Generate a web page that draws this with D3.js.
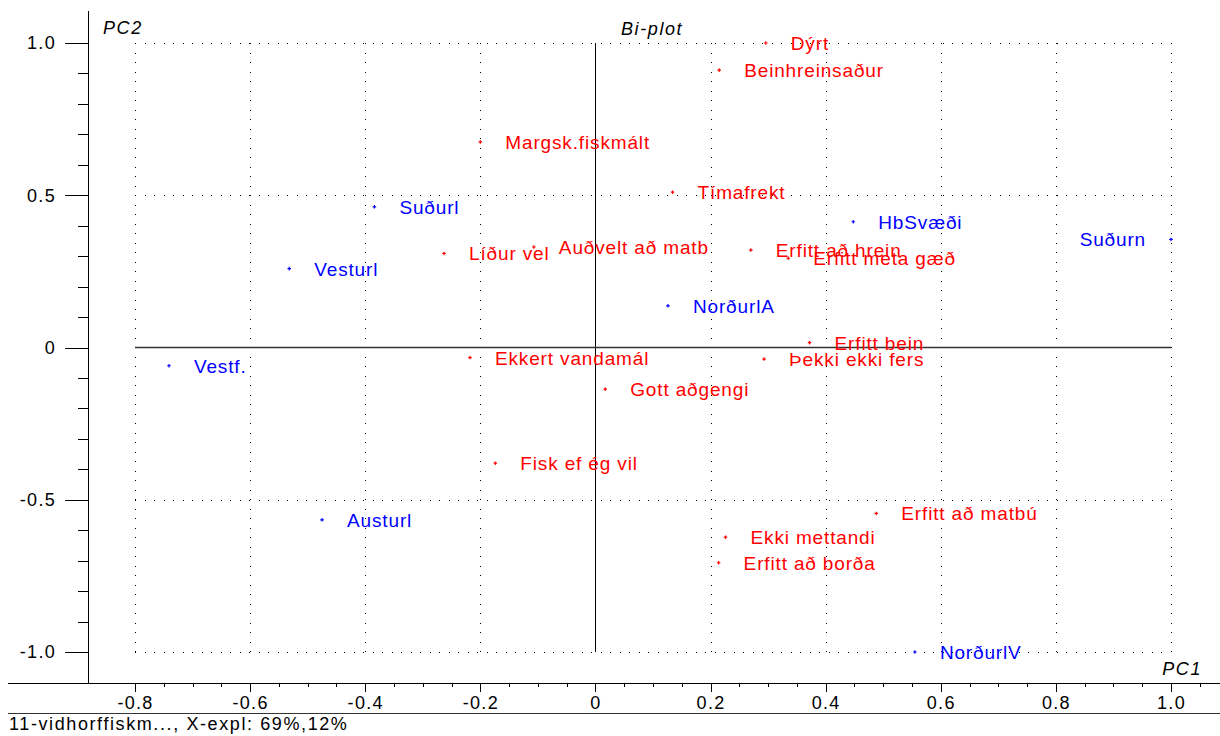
<!DOCTYPE html>
<html>
<head>
<meta charset="utf-8">
<script src="https://cdn.jsdelivr.net/npm/d3@7"></script>
<style>
  html, body { margin: 0; padding: 0; background: #fff; }
  svg { display: block; }
  text { font-family: "Liberation Sans", Arial, sans-serif; }
</style>
</head>
<body>
<svg id="chart" width="1220" height="736"></svg>
<script>
// Variable loadings (red) on PC1 / PC2
const varNames = ["Dýrt", "Beinhreinsaður", "Margsk.fiskmált", "Tímafrekt", "Líður vel",
  "Auðvelt að matb", "Erfitt að hrein", "Erfitt meta gæð", "Erfitt bein", "Þekki ekki fers",
  "Ekkert vandamál", "Gott aðgengi", "Fisk ef ég vil", "Erfitt að matbú", "Ekki mettandi",
  "Erfitt að borða"];
const varPC1 = [0.296, 0.215, -0.200, 0.134, -0.263, -0.107, 0.270, 0.335, 0.372, 0.293,
  -0.218, 0.017, -0.174, 0.488, 0.226, 0.214];
const varPC2 = [1.000, 0.911, 0.675, 0.510, 0.309, 0.330, 0.320, 0.293, 0.016, -0.038,
  -0.033, -0.137, -0.380, -0.545, -0.623, -0.707];

// Sample scores (blue) on PC1 / PC2
const sampleNames = ["Suðurl", "Vesturl", "Vestf.", "HbSvæði", "NorðurlA", "Suðurn", "Austurl", "NorðurlV"];
const samplePC1 = [-0.384, -0.532, -0.741, 0.448, 0.126, 1.000, -0.475, 0.555];
const samplePC2 = [0.462, 0.259, -0.060, 0.413, 0.137, 0.355, -0.566, -1.000];

// Axis ticks
const xMajor = [-0.8, -0.6, -0.4, -0.2, 0, 0.2, 0.4, 0.6, 0.8, 1.0];
const xTickLabels = ["-0.8", "-0.6", "-0.4", "-0.2", "0", "0.2", "0.4", "0.6", "0.8", "1.0"];
const yMajor = [-1.0, -0.5, 0, 0.5, 1.0];
const yTickLabels = ["-1.0", "-0.5", "0", "0.5", "1.0"];
const xGrid = [-0.8, -0.6, -0.4, -0.2, 0.2, 0.4, 0.6, 0.8, 1.0];
const yGrid = [-1.0, -0.5, 0.5, 1.0];

const footerText = "11-vidhorffiskm..., X-expl: 69%,12%";

const svg = d3.select("#chart");
const W = 1220;

const x = d3.scaleLinear().domain([-0.8, 1.0]).range([135, 1171]);
const y = d3.scaleLinear().domain([-1, 1]).range([652, 43]);

const axisY = 683;   // bottom axis line
const axisX = 88;    // left axis line

// minor tick values
const xMinor = d3.range(-16, 22).map(i => +(i * 0.05).toFixed(2))
  .filter(v => !xMajor.some(m => Math.abs(m - v) < 1e-6));
const yMinor = d3.range(-10, 11).map(i => +(i * 0.1).toFixed(2))
  .filter(v => !yMajor.some(m => Math.abs(m - v) < 1e-6));

// dotted grid
const grid = svg.append("g").attr("stroke", "#000").attr("stroke-width", 1)
  .attr("stroke-dasharray", "1,8.5").attr("shape-rendering", "crispEdges");
grid.selectAll("line.gx").data(xGrid).join("line").attr("class", "gx")
  .attr("x1", d => Math.round(x(d)) + 0.5).attr("x2", d => Math.round(x(d)) + 0.5)
  .attr("y1", y(1)).attr("y2", y(-1));
grid.selectAll("line.gy").data(yGrid).join("line").attr("class", "gy")
  .attr("y1", d => Math.round(y(d)) + 0.5).attr("y2", d => Math.round(y(d)) + 0.5)
  .attr("x1", x(-0.8)).attr("x2", x(1.0));

// zero lines
svg.append("line").attr("x1", Math.round(x(0)) + 0.5).attr("x2", Math.round(x(0)) + 0.5)
  .attr("y1", y(1)).attr("y2", y(-1)).attr("stroke", "#000").attr("shape-rendering", "crispEdges");
svg.append("line").attr("x1", x(-0.8)).attr("x2", x(1.0))
  .attr("y1", y(0)).attr("y2", y(0)).attr("stroke", "#333").attr("stroke-width", 1.4);

// frame lines
svg.append("line").attr("x1", axisX + 0.5).attr("x2", axisX + 0.5).attr("y1", 11).attr("y2", axisY)
  .attr("stroke", "#000").attr("shape-rendering", "crispEdges");
svg.append("line").attr("x1", 8).attr("x2", W).attr("y1", axisY + 0.5).attr("y2", axisY + 0.5)
  .attr("stroke", "#000").attr("shape-rendering", "crispEdges");
svg.append("line").attr("x1", 8).attr("x2", W).attr("y1", 713.5).attr("y2", 713.5)
  .attr("stroke", "#333").attr("shape-rendering", "crispEdges");

function styleAxis(g) {
  g.select(".domain").remove();
  g.selectAll(".tick line").attr("stroke", "#000").attr("shape-rendering", "crispEdges");
  g.selectAll(".tick text").attr("fill", "#000").style("font-size", "18px")
    .style("letter-spacing", "1.3px");
}

// bottom axis: minor then major ticks
svg.append("g").attr("transform", `translate(0,${axisY})`)
  .call(d3.axisBottom(x).tickValues(xMinor).tickSize(4).tickFormat(""))
  .call(styleAxis);
svg.append("g").attr("transform", `translate(0,${axisY})`)
  .call(d3.axisBottom(x).tickValues(xMajor).tickSize(9).tickPadding(4)
    .tickFormat((d, i) => xTickLabels[i]))
  .call(styleAxis);

// left axis: minor then major ticks
svg.append("g").attr("transform", `translate(${axisX},0)`)
  .call(d3.axisLeft(y).tickValues(yMinor).tickSize(10).tickFormat(""))
  .call(styleAxis);
svg.append("g").attr("transform", `translate(${axisX},0)`)
  .call(d3.axisLeft(y).tickValues(yMajor).tickSize(23).tickPadding(9)
    .tickFormat((d, i) => yTickLabels[i]))
  .call(styleAxis);

// titles
const italic = { "font-style": "italic", "font-size": "18px", "letter-spacing": "1.6px" };
function applyStyle(sel, st) { Object.entries(st).forEach(([k, v]) => sel.style(k, v)); return sel; }
applyStyle(svg.append("text").attr("x", 103).attr("y", 34).text("PC2"), italic);
applyStyle(svg.append("text").attr("x", 621).attr("y", 35).text("Bi-plot"), italic);
applyStyle(svg.append("text").attr("x", 1202).attr("y", 675).attr("text-anchor", "end").text("PC1"), italic);

// footer
svg.append("text").attr("x", 9).attr("y", 730).text(footerText)
  .style("font-size", "18px").style("letter-spacing", "1.6px").attr("fill", "#000");

// points and labels
const variables = varNames.map((n, i) => ({ name: n, pc1: varPC1[i], pc2: varPC2[i], color: "#ff0000" }));
const samples = sampleNames.map((n, i) => ({ name: n, pc1: samplePC1[i], pc2: samplePC2[i], color: "#0000ff" }));
const all = variables.concat(samples);

const cross = d3.symbol().type(d3.symbolCross).size(7);
svg.append("g").selectAll("path").data(all).join("path")
  .attr("d", cross)
  .attr("transform", d => `translate(${x(d.pc1)},${y(d.pc2)})`)
  .attr("fill", d => d.color);

const labels = svg.append("g").selectAll("text").data(all).join("text")
  .attr("x", d => x(d.pc1) + 25)
  .attr("y", d => y(d.pc2) + 7)
  .attr("fill", d => d.color)
  .style("font-size", "19px")
  .style("letter-spacing", "0.85px")
  .text(d => d.name);

// labels that would run past the window edge go on the left side of their point
labels.each(function (d) {
  const w = this.getComputedTextLength();
  if (x(d.pc1) + 25 + w > W) {
    d3.select(this).attr("text-anchor", "end").attr("x", x(d.pc1) - 25);
  }
});
</script>
</body>
</html>
